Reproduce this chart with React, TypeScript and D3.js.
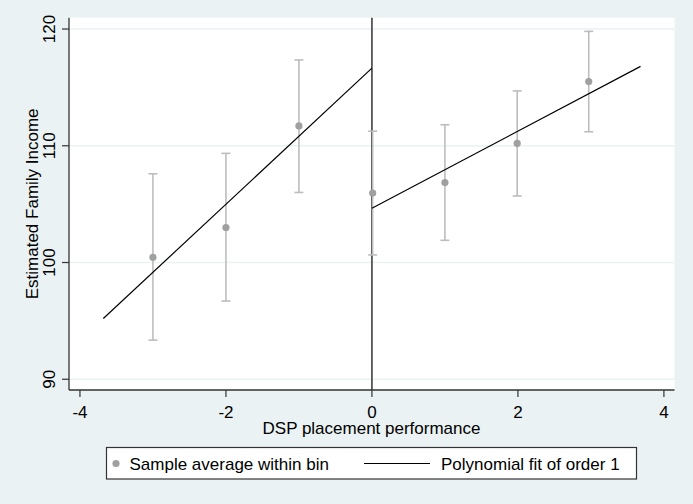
import * as d3 from 'd3'

// bin averages with 95% CI
const binX = [-3, -2, -1, 0.01, 1, 1.99, 2.97]
const binMean = [100.45, 103.0, 111.7, 105.95, 106.85, 110.2, 115.5]
const binLow = [93.35, 96.7, 106.0, 100.65, 101.9, 105.7, 111.2]
const binHigh = [107.6, 109.35, 117.35, 111.25, 111.8, 114.7, 119.8]

// linear fits on each side of the cutoff
const fitLeftX = [-3.68, 0]
const fitLeftY = [95.2, 116.65]
const fitRightX = [0, 3.68]
const fitRightY = [104.65, 116.8]

const xTicks = [-4, -2, 0, 2, 4]
const yTicks = [90, 100, 110, 120]

const W = 693
const H = 504
const left = 69
const right = 674.5
const top = 17.7
const bottom = 390

const FONT = '"Liberation Sans", Arial, sans-serif'
const BG = '#eaf2f3'

interface Pos {
  x: number
  y: number
}

export default function App() {
  const x = d3.scaleLinear().domain([-4.15, 4.145]).range([left, right])
  const y = d3.scaleLinear().domain([89.08, 120.97]).range([bottom, top])

  const line = d3
    .line<Pos>()
    .x((d) => x(d.x))
    .y((d) => y(d.y))

  const leftFit = line(fitLeftX.map((v, i) => ({ x: v, y: fitLeftY[i] }))) || ''
  const rightFit = line(fitRightX.map((v, i) => ({ x: v, y: fitRightY[i] }))) || ''
  const cap = 4.5

  return (
    <div style={{ position: 'fixed', left: 0, top: 0 }}>
      <svg width={W} height={H} style={{ display: 'block' }} fontFamily={FONT}>
        <rect x={0} y={0} width={W} height={H} fill={BG} />
        <rect x={left} y={top} width={right - left} height={bottom - top} fill="#ffffff" />

        {/* grid */}
        {yTicks.map((t) => (
          <line key={'g' + t} x1={left} x2={right} y1={y(t)} y2={y(t)} stroke={BG} strokeWidth={1.5} />
        ))}

        {/* cutoff line */}
        <line x1={x(0)} x2={x(0)} y1={top} y2={bottom} stroke="#333333" strokeWidth={1.5} />

        {/* error bars */}
        {binX.map((bx, i) => (
          <g key={'e' + i} stroke="#bdbdbd" strokeWidth={1.6}>
            <line x1={x(bx)} x2={x(bx)} y1={y(binLow[i])} y2={y(binHigh[i])} />
            <line x1={x(bx) - cap} x2={x(bx) + cap} y1={y(binLow[i])} y2={y(binLow[i])} />
            <line x1={x(bx) - cap} x2={x(bx) + cap} y1={y(binHigh[i])} y2={y(binHigh[i])} />
          </g>
        ))}

        {/* fits */}
        <path d={leftFit} fill="none" stroke="#000000" strokeWidth={1.2} />
        <path d={rightFit} fill="none" stroke="#000000" strokeWidth={1.2} />

        {/* points */}
        {binX.map((bx, i) => (
          <circle key={'p' + i} cx={x(bx)} cy={y(binMean[i])} r={3.6} fill="#a0a0a0" />
        ))}

        {/* axes */}
        <line x1={left} x2={left} y1={top} y2={bottom} stroke="#333333" strokeWidth={1.3} />
        <line x1={left} x2={right} y1={bottom} y2={bottom} stroke="#333333" strokeWidth={1.3} />
        {yTicks.map((t) => (
          <g key={'y' + t}>
            <line x1={left - 7} x2={left} y1={y(t)} y2={y(t)} stroke="#333333" strokeWidth={1.2} />
            <text
              transform={`translate(55,${y(t)}) rotate(-90)`}
              textAnchor="middle"
              fontSize={17}
              fill="#000"
            >
              {t}
            </text>
          </g>
        ))}
        {xTicks.map((t) => (
          <g key={'x' + t}>
            <line x1={x(t)} x2={x(t)} y1={bottom} y2={bottom + 7} stroke="#333333" strokeWidth={1.2} />
            <text x={x(t)} y={417.5} textAnchor="middle" fontSize={17} fill="#000">
              {t}
            </text>
          </g>
        ))}
        <text x={371.5} y={433.5} textAnchor="middle" fontSize={17} fill="#000">
          DSP placement performance
        </text>
        <text
          transform={`translate(37.7,${(top + bottom) / 2}) rotate(-90)`}
          textAnchor="middle"
          fontSize={17}
          fill="#000"
        >
          Estimated Family Income
        </text>

        {/* legend */}
        <rect x={106.5} y={447.5} width={530} height={31.5} fill="#ffffff" stroke="#333333" strokeWidth={1.2} />
        <circle cx={116} cy={463.5} r={3.6} fill="#a0a0a0" />
        <text x={129.5} y={469.5} fontSize={17} fill="#000">
          Sample average within bin
        </text>
        <line x1={364} x2={430} y1={463.5} y2={463.5} stroke="#000" strokeWidth={1.2} />
        <text x={441} y={469.5} fontSize={17} fill="#000">
          Polynomial fit of order 1
        </text>
      </svg>
    </div>
  )
}
